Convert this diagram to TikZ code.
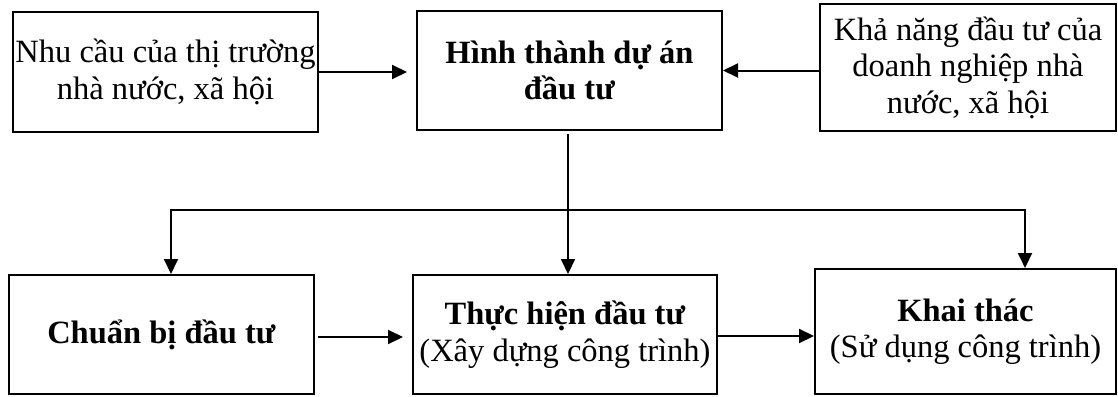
\documentclass[tikz,border=0pt]{standalone}
\usepackage{fontspec}
\setmainfont{Liberation Serif}
\usetikzlibrary{arrows.meta}
\begin{document}
\begin{tikzpicture}[x=1pt,y=-1pt,
  box/.style={draw,line width=2pt,inner sep=0pt,align=center,font=\fontsize{32.5}{36.5}\selectfont},
  arr/.style={line width=2pt,-{Triangle[length=15pt,width=14pt]}},
  ln/.style={line width=2pt}]
\useasboundingbox (0,0) rectangle (1118,396);
\node[box,minimum width=305pt,minimum height=120pt] (b1) at (165.5,72) {Nhu cầu của thị trường\\nhà nước, xã hội};
\node[box,minimum width=305pt,minimum height=119pt] (b2) at (569.5,70.5) {\textbf{Hình thành dự án}\\\textbf{đầu tư}};
\node[box,minimum width=296pt,minimum height=127pt] (b3) at (968,67.5) {Khả năng đầu tư của\\doanh nghiệp nhà\\nước, xã hội};
\node[box,minimum width=305pt,minimum height=119pt] (b4) at (161.5,334.5) {\textbf{Chuẩn bị đầu tư}};
\node[box,minimum width=304pt,minimum height=119pt] (b5) at (565,334.5) {\textbf{Thực hiện đầu tư}\\(Xây dựng công trình)};
\node[box,minimum width=301pt,minimum height=125pt] (b6) at (965.5,331.5) {\textbf{Khai thác}\\(Sử dụng công trình)};
\coordinate (v0) at (568,134);
\coordinate (h) at (568,210);
\coordinate (hl) at (171,210);
\coordinate (hr) at (1025,210);
\draw[arr,shorten >=9pt] (b1.east) -- (b1.east -| b2.west);
\draw[arr] (b3.west |- b2.east) -- (b2.east);
\draw[arr] (v0) -- (v0 |- b5.north);
\draw[arr] (h) -- (hl) -- (hl |- b4.north);
\draw[arr] (h) -- (hr) -- (hr |- b6.north);
\draw[arr,shorten <=3pt,shorten >=9pt] ([yshift=-2.5pt]b4.east) -- ([yshift=-2.5pt]b4.east -| b5.west);
\draw[arr] ([yshift=-1.5pt]b5.east) -- ([yshift=-1.5pt]b5.east -| b6.west);
\end{tikzpicture}
\end{document}
